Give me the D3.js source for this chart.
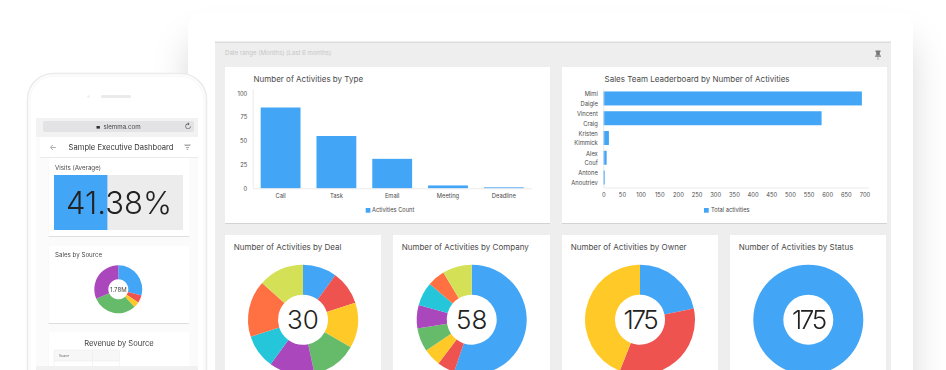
<!DOCTYPE html>
<html>
<head>
<meta charset="utf-8">
<script src="https://cdn.jsdelivr.net/npm/d3@7/dist/d3.min.js"></script>
<style>
  html, body { margin: 0; padding: 0; background: #fff; overflow: hidden; }
  svg { display: block; font-family: Inter, Roboto, sans-serif; filter: blur(0.3px); }
  .tick line { display: none; }
</style>
</head>
<body>
<div id="chart"></div>
<script>
// chart data
const typeCategories = ['Call', 'Task', 'Email', 'Meeting', 'Deadline'];
const typeValues = [85, 55, 31, 3, 1];
const typeTicks = [0, 25, 50, 75, 100];

const repNames = ['Mimi Daigle', 'Vincent Craig', 'Kristen Kimmick', 'Alex Couf', 'Antone Anoutriev'];
const repValues = [693, 585, 15, 9, 4];
const repTicks = [0, 50, 100, 150, 200, 250, 300, 350, 400, 450, 500, 550, 600, 650, 700];

const dealValues = [3, 3, 4, 4, 4, 3, 5, 4];
const companyValues = [32, 3, 3, 4, 4, 4, 3, 5];
const ownerValues = [38, 60, 77];
const statusValues = [175];
const sourceValues = [0.52, 0.09, 0.07, 0.54, 0.56];
const visitsValue = 41.38;

const palette = ['#42a5f5', '#ef5350', '#ffca28', '#66bb6a', '#ab47bc', '#26c6da', '#ff7043', '#d4e157'];
const blue = palette[0];
const textColor = '#4a4a4a';

const width = 946;
const height = 370;

const svg = d3.select('#chart')
  .append('svg')
  .attr('width', width)
  .attr('height', height);

// shadows
const defs = svg.append('defs');
defs.append('filter')
  .attr('id', 'pageShadow')
  .attr('x', '-20%').attr('y', '-20%').attr('width', '140%').attr('height', '140%')
  .append('feDropShadow')
  .attr('dx', 0).attr('dy', 28).attr('stdDeviation', 17)
  .attr('flood-color', '#000').attr('flood-opacity', 0.15);
defs.append('filter')
  .attr('id', 'cardShadow')
  .attr('x', '-5%').attr('y', '-5%').attr('width', '110%').attr('height', '110%')
  .append('feDropShadow')
  .attr('dx', 0).attr('dy', 0.7).attr('stdDeviation', 0.7)
  .attr('flood-color', '#000').attr('flood-opacity', 0.16);

const rect = (parent, x, y, w, h, fill, rx = 0) => parent.append('rect')
  .attr('x', x).attr('y', y)
  .attr('width', w).attr('height', h)
  .attr('rx', rx)
  .attr('fill', fill);

const label = (parent, x, y, str, size, fill = textColor, anchor = 'start') => parent.append('text')
  .attr('x', x).attr('y', y)
  .attr('dy', '0.35em')
  .attr('font-size', size)
  .attr('fill', fill)
  .attr('text-anchor', anchor)
  .text(str);

const card = (parent, x, y, w, h) => rect(parent, x, y, w, h, '#fff').attr('filter', 'url(#cardShadow)');

// donut from a list of values, clockwise from 12 o'clock
const donut = (parent, cx, cy, rOuter, rInner, values) => {
  const pie = d3.pie().sort(null)(values);
  const arc = d3.arc().innerRadius(rInner).outerRadius(rOuter);
  parent.append('g')
    .attr('transform', `translate(${cx},${cy})`)
    .selectAll('path')
    .data(pie)
    .enter()
    .append('path')
    .attr('d', arc)
    .attr('fill', (d, i) => palette[i]);
};

// desktop window
rect(svg, 188, 12, 725, 420, '#fff', 16).attr('filter', 'url(#pageShadow)');
rect(svg, 215, 42, 676, 340, '#eeeeee');
rect(svg, 215, 41.5, 676, 1.5, '#dcdcdc');
label(svg, 225, 53, 'Date range (Months) (Last 6 months)', 6.1, '#c6c6c6');

// pin icon
const pin = svg.append('g').attr('transform', 'translate(878,55)');
rect(pin, -2.5, -4.5, 5, 1.5, '#777');
rect(pin, -1.8, -3.5, 3.6, 4, '#777');
rect(pin, -3, 0.5, 6, 1.2, '#777');
rect(pin, -0.4, 1.5, 0.8, 3.5, '#999');

// bar chart: activities by type
card(svg, 225, 67, 325, 156);
label(svg, 253.5, 79.5, 'Number of Activities by Type', 8);

const xType = d3.scaleBand()
  .domain(typeCategories)
  .range([252.7, 531.7])
  .paddingInner(0.286)
  .paddingOuter(0.143);
const yType = d3.scaleLinear()
  .domain([0, 105])
  .range([188.3, 88.5]);

svg.selectAll('.type-bar')
  .data(typeValues)
  .enter()
  .append('rect')
  .attr('class', 'type-bar')
  .attr('x', (d, i) => xType(typeCategories[i]))
  .attr('y', d => yType(d))
  .attr('width', xType.bandwidth())
  .attr('height', d => yType(0) - yType(d))
  .attr('fill', blue);

const styleAxis = g => {
  g.selectAll('.domain').attr('stroke', '#e6e6e6').attr('stroke-width', 0.8);
  g.selectAll('text').attr('fill', textColor).attr('font-size', 5.8).attr('font-family', 'Inter, Roboto, sans-serif');
};

svg.append('g')
  .attr('transform', `translate(0,${yType(0)})`)
  .call(d3.axisBottom(xType).tickSize(0).tickPadding(5.5).tickSizeOuter(0))
  .call(styleAxis);
svg.append('g')
  .attr('transform', `translate(${xType.range()[0]},0)`)
  .call(d3.axisLeft(yType).tickValues(typeTicks).tickSize(0).tickPadding(5.5).tickSizeOuter(0))
  .call(styleAxis);

rect(svg, 365.7, 208, 4.7, 4.7, blue);
label(svg, 372, 210.4, 'Activities Count', 5.7);

// bar chart: leaderboard
card(svg, 562, 67, 325, 156);
label(svg, 604.5, 79.5, 'Sales Team Leaderboard by Number of Activities', 8);

const xRep = d3.scaleLinear()
  .domain([0, 697 + 14])
  .range([603.3, 868.6]);
const yRep = d3.scaleBand()
  .domain(repNames)
  .range([88.5, 187.5])
  .paddingInner(0.293)
  .paddingOuter(0.15);

svg.selectAll('.rep-bar')
  .data(repValues)
  .enter()
  .append('rect')
  .attr('class', 'rep-bar')
  .attr('x', xRep(0))
  .attr('y', (d, i) => yRep(repNames[i]))
  .attr('width', d => xRep(d) - xRep(0))
  .attr('height', yRep.bandwidth())
  .attr('fill', blue);

svg.append('g')
  .attr('transform', 'translate(0,187.5)')
  .call(d3.axisBottom(xRep).tickValues(repTicks).tickSize(0).tickPadding(5.5).tickSizeOuter(0))
  .call(styleAxis);

const repAxis = svg.append('g')
  .attr('transform', `translate(${xRep(0)},0)`)
  .call(d3.axisLeft(yRep).tickSize(0).tickPadding(5.5).tickSizeOuter(0))
  .call(styleAxis);

// names go on two lines
repAxis.selectAll('.tick text').each(function(d) {
  const t = d3.select(this).text(null).attr('dy', null);
  d.split(' ').forEach((part, i) => {
    t.append('tspan')
      .attr('x', -5.5)
      .attr('y', i === 0 ? -2.2 : 7.3)
      .text(part);
  });
});

rect(svg, 704, 208, 4.7, 4.7, blue);
label(svg, 711, 210.4, 'Total activities', 5.7);

// donut row
const donutCards = [
  { x: 225, w: 156, title: 'Number of Activities by Deal', total: '30', values: dealValues, cx: 303 },
  { x: 393, w: 157, title: 'Number of Activities by Company', total: '58', values: companyValues, cx: 471.7 },
  { x: 562, w: 156, title: 'Number of Activities by Owner', total: '175', values: ownerValues, cx: 640 },
  { x: 730, w: 156, title: 'Number of Activities by Status', total: '175', values: statusValues, cx: 808.3 }
];

donutCards.forEach(c => {
  card(svg, c.x, 235, c.w, 150);
  label(svg, c.x + 8.7, 247.3, c.title, 8);
  donut(svg, c.cx, 319.7, 55, 25, c.values);
  label(svg, c.cx, 320, c.total, 26, '#222', 'middle')
    .attr('font-weight', 300)
    .attr('letter-spacing', c.total === '175' ? -2.4 : 0);
});

// phone
const phone = svg.append('g');
rect(phone, 27.5, 73.5, 179, 330, '#fff', 26)
  .attr('stroke', '#ebebeb')
  .attr('stroke-width', 1.6);
rect(phone, 30, 76, 174, 330, 'none', 24)
  .attr('stroke', '#f6f6f6')
  .attr('stroke-width', 1);
phone.append('circle').attr('cx', 88.5).attr('cy', 96.5).attr('r', 1.2).attr('fill', '#eee');
rect(phone, 101, 95, 30, 3, '#eaeaea', 1.5);

// phone browser
rect(phone, 36, 118, 162, 252, '#fbfbfb');
rect(phone, 36, 118, 162, 19, '#f2f2f2');
rect(phone, 43, 121, 151, 11, '#e3e3e5', 2);
label(phone, 122, 126.7, 'slemma.com', 6.2, '#444', 'middle');
rect(phone, 96.5, 126, 3.4, 2.6, '#333');
label(phone, 188, 126.5, '↻', 7.5, '#555', 'middle');
rect(phone, 40, 137, 158, 20, '#fff');
rect(phone, 40, 157, 158, 0.8, '#e8e8e8');
label(phone, 53, 147, '←', 8, '#999', 'middle');
label(phone, 121, 147, 'Sample Executive Dashboard', 7.6, '#333', 'middle');
phone.append('path')
  .attr('d', 'M184 144.5h7l-1 1.5h-5zM185.6 147h3.8l-.9 1.2h-2zM186.6 149h1.8l-.4 1h-1z')
  .attr('fill', '#aaa');

// visits card
card(phone, 48.5, 158, 140.5, 78);
label(phone, 55, 168.3, 'Visits (Average)', 6.2);
const xVisits = d3.scaleLinear().domain([0, 100]).range([54, 183]);
rect(phone, xVisits(0), 175, xVisits(100) - xVisits(0), 55, '#ececec');
rect(phone, xVisits(0), 175, xVisits(visitsValue) - xVisits(0), 55, blue);
label(phone, 119, 203, visitsValue + '%', 31, '#222', 'middle').attr('font-weight', 300);

// sales card
card(phone, 48.5, 246, 140.5, 77);
label(phone, 55, 255.3, 'Sales by Source', 6.2);
donut(phone, 118.3, 289.3, 24, 10, sourceValues);
label(phone, 118.3, 289.5, '1.78M', 6, '#444', 'middle');

// revenue card
card(phone, 48.5, 332, 140.5, 50);
label(phone, 119, 343, 'Revenue by Source', 7.6, '#444', 'middle');
rect(phone, 54, 350, 38.5, 11, '#f7f7f7').attr('stroke', '#eee').attr('stroke-width', 0.6);
rect(phone, 92.5, 350, 27, 11, '#f7f7f7').attr('stroke', '#eee').attr('stroke-width', 0.6);
rect(phone, 54, 361, 38.5, 9, '#fff').attr('stroke', '#eee').attr('stroke-width', 0.6);
rect(phone, 92.5, 361, 27, 9, '#fff').attr('stroke', '#eee').attr('stroke-width', 0.6);
label(phone, 59, 355.5, 'Source', 3, '#555');
rect(phone, 36, 366, 162, 4, '#f1f1f1');
</script>
</body>
</html>
